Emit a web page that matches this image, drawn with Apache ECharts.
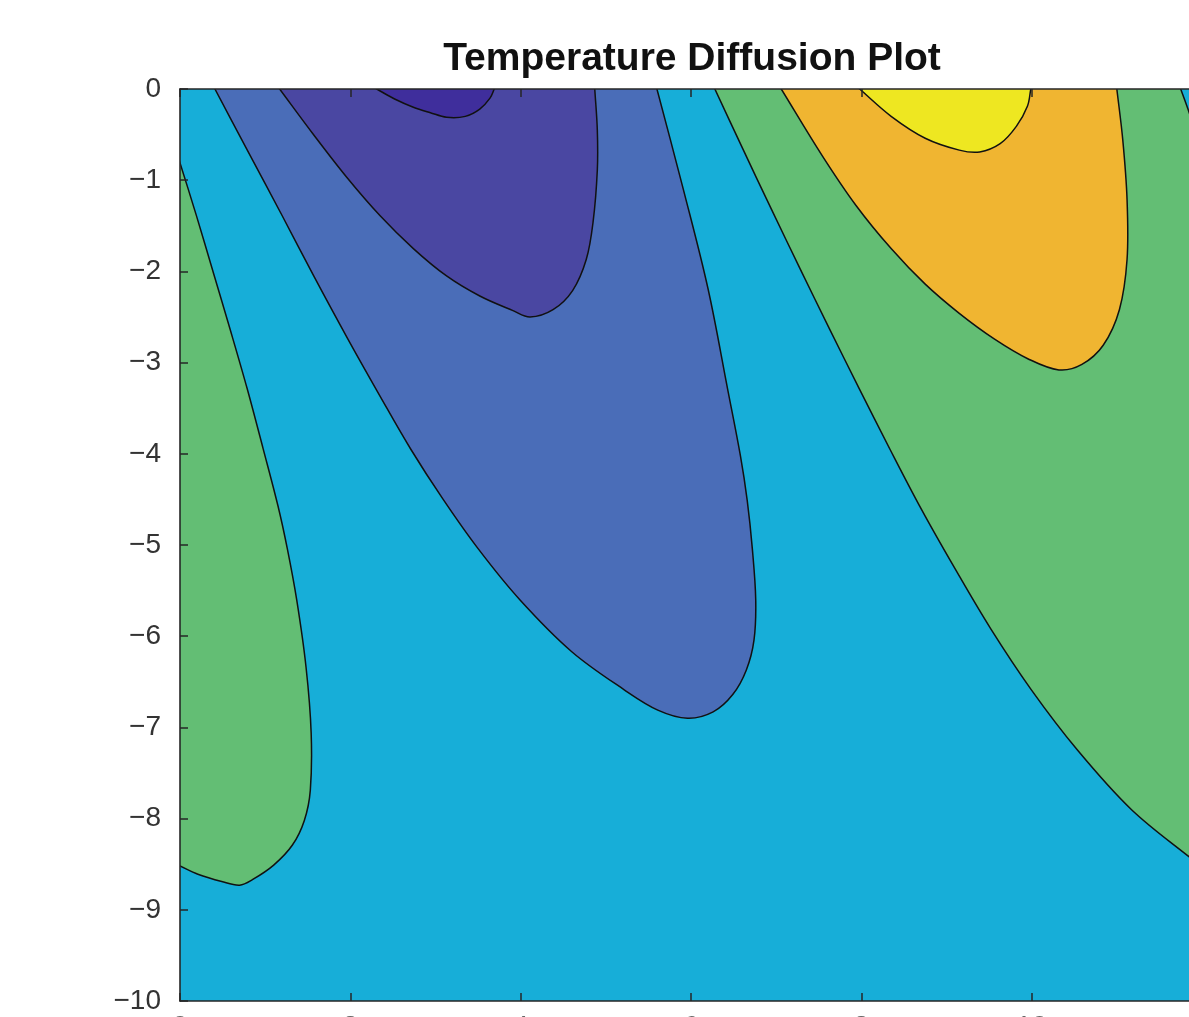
<!DOCTYPE html>
<html>
<head>
<meta charset="utf-8">
<script src="https://cdn.jsdelivr.net/npm/echarts@6/dist/echarts.min.js"></script>
<style>
html,body{margin:0;padding:0;overflow:hidden;background:#fff;}
#chart{position:absolute;left:0;top:0;width:1384px;height:1124px;}
</style>
</head>
<body>
<div id="chart"></div>
<script>
// ---- Data (x: 0..12, y: depth 0..-10) ----
const xTicks = [0, 2, 4, 6, 8, 10, 12];
const yTicks = [0, -1, -2, -3, -4, -5, -6, -7, -8, -9, -10];

// Contour lines (iso-temperature boundaries) as [x, y] pairs
const lineA = [[0,-0.81],[0.19,-1.38],[0.39,-2.01],[0.59,-2.64],[0.79,-3.29],[0.975,-3.94],[1.15,-4.57],[1.26,-5.04],[1.37,-5.60],[1.48,-6.34],[1.54,-7.06],[1.53,-7.69],[1.46,-8.02],[1.32,-8.29],[1.10,-8.51],[0.85,-8.67],[0.70,-8.73],[0.49,-8.69],[0.21,-8.61],[0,-8.52]];
const lineB = [[0.41,0],[0.79,-0.67],[1.2,-1.39],[1.57,-2.05],[1.97,-2.74],[2.35,-3.37],[2.71,-3.95],[3.09,-4.50],[3.50,-5.04],[3.99,-5.60],[4.60,-6.17],[5.22,-6.59],[5.61,-6.81],[5.96,-6.90],[6.26,-6.83],[6.49,-6.64],[6.65,-6.37],[6.74,-6.04],[6.76,-5.60],[6.72,-5.04],[6.66,-4.51],[6.58,-4.02],[6.43,-3.29],[6.20,-2.19],[5.91,-1.10],[5.60,0]];
const lineC = [[1.17,0],[1.56,-0.49],[1.96,-0.97],[2.35,-1.39],[2.74,-1.75],[3.13,-2.05],[3.52,-2.27],[3.91,-2.43],[4.11,-2.50],[4.38,-2.42],[4.61,-2.21],[4.77,-1.87],[4.85,-1.46],[4.90,-0.89],[4.90,-0.45],[4.87,0]];
const lineD = [[2.31,0],[2.52,-0.11],[2.74,-0.20],[2.94,-0.26],[3.13,-0.31],[3.35,-0.30],[3.52,-0.22],[3.64,-0.10],[3.69,0]];
const lineE = [[6.28,0],[6.61,-0.66],[6.945,-1.32],[7.28,-1.97],[7.626,-2.63],[7.978,-3.29],[8.336,-3.95],[8.706,-4.61],[9.10,-5.26],[9.52,-5.92],[9.99,-6.58],[10.53,-7.24],[11.17,-7.90],[11.85,-8.42],[12,-8.52]];
const lineF = [[7.06,0],[7.54,-0.73],[7.94,-1.28],[8.35,-1.75],[8.75,-2.14],[9.15,-2.46],[9.56,-2.74],[9.96,-2.96],[10.32,-3.08],[10.59,-3.02],[10.84,-2.81],[11.03,-2.42],[11.12,-1.87],[11.12,-1.21],[11.07,-0.56],[11.00,0]];
const lineG = [[7.98,0],[8.35,-0.30],[8.75,-0.54],[9.15,-0.67],[9.39,-0.69],[9.63,-0.60],[9.82,-0.41],[9.95,-0.19],[9.99,0]];
const lineH = [[11.75,0],[11.85,-0.26],[12,-0.67]];

// Filled bands: level index (0 = coldest) and the boundary each one is enclosed by
const bandLevels = [4, 2, 1, 0, 4, 5, 6];
const bandBounds = [[lineA], [lineB], [lineC], [lineD], [lineE, lineH], [lineF], [lineG]];
const contourLines = [lineA, lineB, lineC, lineD, lineE, lineF, lineG, lineH];
const backgroundLevel = 3;

// ---- Styles ----
const levelColors = ['#3F2E9C', '#4A47A2', '#4A6DB8', '#17AED8', '#63BE74', '#F0B531', '#EEE721'];
const axisColor = '#262626';
const SMOOTH = 0.35;

// extend a traced boundary past the axes box so fills close outside the clip area
function extend(pts) {
  const n = pts.length;
  const s = [2 * pts[0][0] - pts[1][0], 2 * pts[0][1] - pts[1][1]];
  const e = [2 * pts[n - 1][0] - pts[n - 2][0], 2 * pts[n - 1][1] - pts[n - 2][1]];
  return [s].concat(pts, [e]);
}
function bandPolygon(bounds) {
  if (bounds.length === 1) return extend(bounds[0]);
  const lo = extend(bounds[0]);
  const hi = extend(bounds[1]).reverse();
  return lo.concat([[13, -9], [13.2, -5], [13, -1]], hi, [[9, 1.5]]);
}

const chart = echarts.init(document.getElementById('chart'), null, {renderer: 'canvas'});
const fontFam = 'Liberation Sans, Arial, Helvetica, sans-serif';
const minusFmt = v => String(v).replace('-', '\u2212');

const axisCommon = {
  type: 'value', z: 10,
  axisLine: {show: true, onZero: false, lineStyle: {color: axisColor, width: 1.6}},
  axisTick: {show: true, inside: true, length: 8, lineStyle: {color: axisColor, width: 1.5}},
  splitLine: {show: false}
};

chart.setOption({
  animation: false,
  backgroundColor: '#ffffff',
  title: {
    text: 'Temperature Diffusion Plot',
    left: 'center',
    top: 35,
    textStyle: {fontFamily: fontFam, fontWeight: 'bold', fontSize: 39, color: '#111111'}
  },
  grid: {left: 180, top: 89, right: 182, bottom: 123, containLabel: false},
  xAxis: [
    Object.assign({}, axisCommon, {min: xTicks[0], max: xTicks[xTicks.length - 1], interval: xTicks[1] - xTicks[0], position: 'bottom',
      axisLabel: {margin: 12.5, fontFamily: fontFam, fontSize: 28, color: '#666666', formatter: minusFmt}}),
    Object.assign({}, axisCommon, {min: xTicks[0], max: xTicks[xTicks.length - 1], interval: xTicks[1] - xTicks[0], position: 'top',
      axisLabel: {show: false}})
  ],
  yAxis: [
    Object.assign({}, axisCommon, {min: yTicks[yTicks.length - 1], max: yTicks[0], interval: 1, position: 'left',
      axisLabel: {margin: 19, fontFamily: fontFam, fontSize: 28, color: '#333333', padding: [7, 0, 0, 0], formatter: minusFmt}}),
    Object.assign({}, axisCommon, {min: yTicks[yTicks.length - 1], max: yTicks[0], interval: 1, position: 'right',
      axisLabel: {show: false}})
  ],
  series: [
    {
      type: 'custom', name: 'background', coordinateSystem: 'cartesian2d', clip: true, z: 1,
      data: [[xTicks[0], yTicks[0], xTicks[xTicks.length - 1], yTicks[yTicks.length - 1]]],
      renderItem: function (params, api) {
        const a = api.coord([api.value(0), api.value(1)]);
        const b = api.coord([api.value(2), api.value(3)]);
        return {type: 'rect', shape: {x: a[0], y: a[1], width: b[0] - a[0], height: b[1] - a[1]},
          style: {fill: levelColors[backgroundLevel]}};
      }
    },
    {
      type: 'custom', name: 'bands', coordinateSystem: 'cartesian2d', clip: true, z: 2,
      data: bandLevels.map((lv, i) => [i, lv]),
      renderItem: function (params, api) {
        const i = api.value(0);
        const pts = bandPolygon(bandBounds[i]);
        return {
          type: 'polygon',
          shape: {points: pts.map(p => api.coord(p)), smooth: SMOOTH},
          style: {fill: levelColors[api.value(1)], stroke: null}
        };
      }
    },
    {
      type: 'custom', name: 'contours', coordinateSystem: 'cartesian2d', clip: true, z: 3,
      data: contourLines.map((l, i) => [i]),
      renderItem: function (params, api) {
        const pts = extend(contourLines[api.value(0)]);
        return {
          type: 'polyline',
          shape: {points: pts.map(p => api.coord(p)), smooth: SMOOTH},
          style: {fill: null, stroke: '#111111', lineWidth: 1.5}
        };
      }
    }
  ]
});
</script>
</body>
</html>
